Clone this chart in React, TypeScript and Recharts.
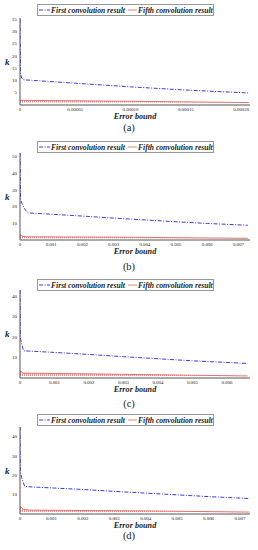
import React from "react";
import { ComposedChart, Line, Area, XAxis, YAxis, Label } from "recharts";

// ---------- Panel (a) ----------
const errorA_first = [0, 0.0000005, 0.0000015, 0.000003, 0.00005, 0.0001, 0.00015, 0.000207];
const kA_first = [35, 13, 11, 10.3, 8.9, 7.4, 6.1, 4.9];
const errorA_fifth = [0, 0.000003, 0.0001, 0.000207];
const kA_fifth = [2.0, 1.9, 1.5, 1.0];
const yTicksA = [5, 10, 15, 20, 25, 30, 35];
const xTicksA = [0, 0.00005, 0.0001, 0.00015, 0.0002];
const xLabelsA = ["0", "0.00005", "0.00010", "0.00015", "0.00020"];

// ---------- Panel (b) ----------
const errorB_first = [0, 0.00002, 0.00008, 0.00015, 0.00025, 0.001, 0.002, 0.003, 0.004, 0.005, 0.006, 0.0073];
const kB_first = [52, 24, 21, 18.5, 16.2, 15.4, 14.3, 13.1, 12, 10.9, 9.9, 8.8];
const errorB_fifth = [0, 0.00005, 0.0002, 0.003, 0.0073];
const kB_fifth = [3.5, 2.4, 1.9, 1.7, 1.0];
const yTicksB = [10, 20, 30, 40, 50];
const xTicksB = [0, 0.001, 0.002, 0.003, 0.004, 0.005, 0.006, 0.007];
const xLabelsB = ["0", "0.001", "0.002", "0.003", "0.004", "0.005", "0.006", "0.007"];

// ---------- Panel (c) ----------
const errorC_first = [0, 0.00001, 0.00003, 0.0001, 0.001, 0.002, 0.003, 0.004, 0.005, 0.006, 0.0066];
const kC_first = [43, 20, 18, 13.3, 12.5, 11.5, 10.4, 9.4, 8.4, 7.6, 7.1];
const errorC_fifth = [0, 0.0001, 0.003, 0.0066];
const kC_fifth = [3.5, 2.4, 1.8, 1.0];
const yTicksC = [10, 20, 30, 40];
const xTicksC = [0, 0.001, 0.002, 0.003, 0.004, 0.005, 0.006];
const xLabelsC = ["0", "0.001", "0.002", "0.003", "0.004", "0.005", "0.006"];

// ---------- Panel (d) ----------
const errorD_first = [0, 0.00001, 0.00005, 0.00015, 0.001, 0.002, 0.003, 0.004, 0.005, 0.006, 0.0073];
const kD_first = [45, 22, 19, 14.2, 13.5, 12.7, 11.7, 10.8, 9.9, 9, 8];
const errorD_fifth = [0, 0.0001, 0.0003, 0.004, 0.0073];
const kD_fifth = [4, 2.5, 2.0, 1.6, 1.0];
const yTicksD = [10, 20, 30, 40];
const xTicksD = [0, 0.001, 0.002, 0.003, 0.004, 0.005, 0.006, 0.007];
const xLabelsD = ["0", "0.001", "0.002", "0.003", "0.004", "0.005", "0.006", "0.007"];

const seriesNames = ["First convolution result", "Fifth convolution result"];
const panelLetters = ["(a)", "(b)", "(c)", "(d)"];
const xTitle = "Error bound";
const yTitle = "k";

const BLUE = "#3d3dd2";
const RED = "#e26464";
const SERIF = "'Liberation Serif', 'Times New Roman', serif";

const zip = (xs: number[], ys: number[]) => xs.map((e, i) => ({ e, k: ys[i] }));

const panels = [
  { first: zip(errorA_first, kA_first), fifth: zip(errorA_fifth, kA_fifth), yTicks: yTicksA, xTicks: xTicksA, xLabels: xLabelsA, xMax: 0.000208, yMax: 35.5,
    top: 0, plotTop: 18, plotBottom: 105, legendTop: 4, letterY: 127 },
  { first: zip(errorB_first, kB_first), fifth: zip(errorB_fifth, kB_fifth), yTicks: yTicksB, xTicks: xTicksB, xLabels: xLabelsB, xMax: 0.00737, yMax: 52,
    top: 136, plotTop: 153, plotBottom: 240, legendTop: 141, letterY: 266 },
  { first: zip(errorC_first, kC_first), fifth: zip(errorC_fifth, kC_fifth), yTicks: yTicksC, xTicks: xTicksC, xLabels: xLabelsC, xMax: 0.00667, yMax: 43,
    top: 274, plotTop: 290, plotBottom: 378, legendTop: 279, letterY: 403 },
  { first: zip(errorD_first, kD_first), fifth: zip(errorD_fifth, kD_fifth), yTicks: yTicksD, xTicks: xTicksD, xLabels: xLabelsD, xMax: 0.00732, yMax: 45,
    top: 410, plotTop: 427, plotBottom: 514, legendTop: 414, letterY: 535.5 },
];

function LegendBox({ top }: { top: number }) {
  return (
    <svg width={177} height={12} style={{ position: "absolute", left: 37, top }}>
      <rect x={0.5} y={0.5} width={176} height={11} fill="#fff" stroke="#999" strokeWidth={1} />
      <line x1={2} y1={6} x2={13} y2={6} stroke={BLUE} strokeWidth={1} strokeDasharray="4 1.5 1 1.5" />
      <text x={14} y={8.8} fontFamily={SERIF} fontSize={7.6} fontWeight="bold" fontStyle="italic" fill="#222">
        {seriesNames[0]}
      </text>
      <line x1={91} y1={6} x2={100} y2={6} stroke={RED} strokeWidth={0.8} />
      <text x={101} y={8.8} fontFamily={SERIF} fontSize={7.6} fontWeight="bold" fontStyle="italic" fill="#222">
        {seriesNames[1]}
      </text>
    </svg>
  );
}

function Panel({ p, idx }: { p: any; idx: number }) {
  const height = p.plotBottom - p.top + 16;
  const tickStyle = { fontSize: 4.9, fill: "#222", fontFamily: SERIF };
  return (
    <>
      <div style={{ position: "absolute", left: 0, top: p.top }}>
        <ComposedChart width={258} height={height} margin={{ top: p.plotTop - p.top, right: 8, left: 0, bottom: 0 }}>
          <defs>
            <pattern id={`hatch${idx}`} width={2} height={4} patternUnits="userSpaceOnUse">
              <rect x={0} y={0} width={0.9} height={4} fill={RED} opacity={0.8} />
            </pattern>
          </defs>
          <XAxis
            type="number"
            dataKey="e"
            domain={[0, p.xMax]}
            ticks={p.xTicks}
            allowDataOverflow
            tickFormatter={(v: number, i: number) => p.xLabels[i] ?? String(v)}
            tick={tickStyle}
            tickLine={false}
            tickSize={2}
            tickMargin={0.5}
            axisLine={{ stroke: "#555", strokeWidth: 1 }}
            height={16}
            interval={0}
          >
            <Label
              value={xTitle}
              position="insideBottom"
              offset={2}
              style={{ fontFamily: SERIF, fontSize: 8.2, fontWeight: "bold", fontStyle: "italic", fill: "#222" }}
            />
          </XAxis>
          <YAxis
            type="number"
            domain={[0, p.yMax]}
            ticks={p.yTicks}
            allowDataOverflow
            tick={tickStyle}
            tickLine={false}
            tickSize={2}
            tickMargin={1}
            axisLine={{ stroke: "#555", strokeWidth: 1 }}
            width={20}
            interval={0}
          >
            <Label
              value={yTitle}
              position="insideLeft"
              offset={5}
              style={{ fontFamily: SERIF, fontSize: 9, fontWeight: "bold", fontStyle: "italic", fill: "#222" }}
            />
          </YAxis>
          <Area
            data={p.fifth}
            dataKey="k"
            type="linear"
            baseValue={1}
            stroke="none"
            fill={`url(#hatch${idx})`}
            fillOpacity={1}
            isAnimationActive={false}
            legendType="none"
          />
          <Line
            data={p.fifth}
            dataKey="k"
            name={seriesNames[1]}
            type="linear"
            stroke={RED}
            strokeWidth={0.9}
            dot={false}
            isAnimationActive={false}
          />
          <Line
            data={p.first}
            dataKey="k"
            name={seriesNames[0]}
            type="linear"
            stroke={BLUE}
            strokeWidth={1}
            strokeDasharray="4 1.5 1 1.5"
            dot={false}
            isAnimationActive={false}
          />
        </ComposedChart>
      </div>
      <LegendBox top={p.legendTop} />
      <div
        style={{
          position: "absolute",
          left: 0,
          width: 258,
          top: p.letterY - 6.5,
          height: 13,
          lineHeight: "13px",
          textAlign: "center",
          fontFamily: SERIF,
          fontSize: 10.5,
          color: "#222",
        }}
      >
        {panelLetters[idx]}
      </div>
    </>
  );
}

export default function App() {
  return (
    <div style={{ position: "absolute", left: 0, top: 0, width: 258, height: 550, background: "#fff", overflow: "hidden" }}>
      {panels.map((p, i) => (
        <Panel key={i} p={p} idx={i} />
      ))}
    </div>
  );
}
